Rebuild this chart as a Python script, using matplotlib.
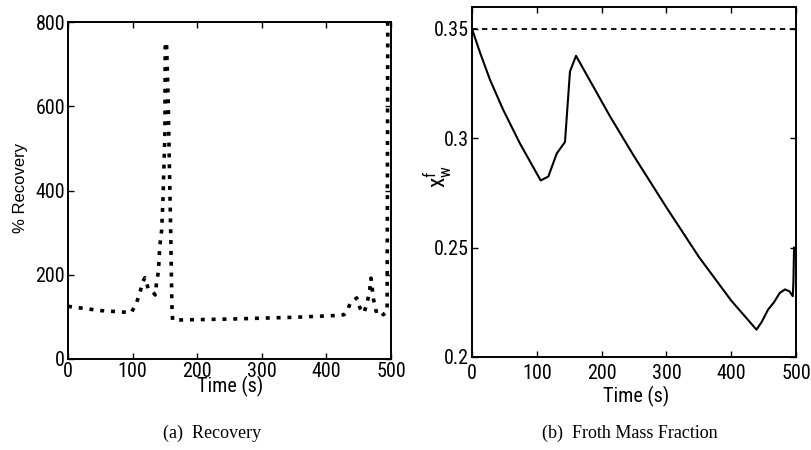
import matplotlib
matplotlib.use("Agg")
import matplotlib.pyplot as plt
from matplotlib import font_manager
from matplotlib.font_manager import FontProperties

names = {f.name for f in font_manager.fontManager.ttflist}
narrow_family = None
for cand in ["Liberation Sans Narrow", "Nimbus Sans Narrow", "Arial Narrow", "Roboto Condensed",
             "Archivo Narrow"]:
    if cand in names:
        narrow_family = cand
        break
if narrow_family:
    def nfp(size):
        return FontProperties(family=narrow_family, size=size)
else:
    def nfp(size):
        return FontProperties(family="DejaVu Sans", stretch="condensed", size=size)
serif = "Liberation Serif"

# ---- data: (a) Recovery ----
rec_t = [0, 10, 20, 30, 40, 50, 60, 70, 80, 90, 98, 106, 111, 116, 119, 124, 129, 135,
         137, 140, 142, 145, 147, 150, 150.5, 152.5, 155, 157, 159, 160, 161, 162,
         180, 220, 256, 300, 350, 411, 427, 432, 437, 447, 452, 458, 463, 467, 469,
         473, 477, 483, 488, 492, 494, 495]
rec_v = [125, 123, 121, 119, 117, 115, 114, 113, 112, 111, 110, 133, 156, 184, 193, 168, 164, 152,
         180, 208, 267, 306, 377, 535, 752, 750, 620, 456, 298, 200, 117, 92,
         93, 94, 95, 97, 99, 103, 105, 113, 133, 145, 121, 109, 133, 164, 192,
         141, 113, 117, 105, 110, 113, 800]

# ---- data: (b) Froth Mass Fraction ----
fr_t = [0, 12, 27.8, 48.3, 74, 106, 117.8, 130.7, 143.5, 151.2, 160.5,
        213, 250, 300, 350, 400, 439, 447, 457, 466, 475, 483, 490, 495, 496, 497]
fr_v = [0.350, 0.3395, 0.3267, 0.3129, 0.2976, 0.2807, 0.2825, 0.2930, 0.2983, 0.3305, 0.3377,
        0.3100, 0.2918, 0.2684, 0.2458, 0.2258, 0.2125, 0.2160, 0.2217, 0.2250,
        0.2293, 0.2309, 0.2300, 0.2278, 0.2340, 0.2500]
fr_ref = 0.35

x_ticks = [0, 100, 200, 300, 400, 500]
rec_yticks = [0, 200, 400, 600, 800]
fr_yticks = [0.2, 0.25, 0.3, 0.35]
fr_yticklabels = ["0.2", "0.25", "0.3", "0.35"]

fig = plt.figure(figsize=(8.11, 4.5), dpi=100)
W, H = 811, 450

def axes_px(x0, x1, ytop, ybot):
    return fig.add_axes([x0 / W, 1 - ybot / H, (x1 - x0) / W, (ybot - ytop) / H])

def ftext(x, y, s, **kw):
    return fig.text(x / W, 1 - y / H, s, **kw)

ax1 = axes_px(68, 391, 22, 359)
ax2 = axes_px(472, 796, 7, 357)

TS = 14.5
for ax in (ax1, ax2):
    ax.tick_params(direction="in", top=True, right=True, length=4, width=1.0, pad=2)
    for s in ax.spines.values():
        s.set_linewidth(1.4)
    ax.set_xlim(0, 500)
    ax.set_xticks(x_ticks)
    ax.set_xticklabels([str(v) for v in x_ticks], fontproperties=nfp(TS))
ax2.tick_params(axis="x", pad=5)

ax1.plot(rec_t, rec_v, color="black", lw=2.6, linestyle=(0, (1.1, 1.9)))
ax1.set_ylim(0, 800)
ax1.set_yticks(rec_yticks)
ax1.set_yticklabels([str(v) for v in rec_yticks], fontproperties=nfp(TS))

ax2.plot(fr_t, fr_v, color="black", lw=1.5)
ax2.axhline(fr_ref, color="black", lw=1.3, linestyle=(0, (3, 2.5)))
ax2.set_ylim(0.2, 0.36)
ax2.set_yticks(fr_yticks)
ax2.set_yticklabels(fr_yticklabels, fontproperties=nfp(TS))

# axis labels at reference positions
ftext(230, 386, "Time (s)", fontproperties=nfp(TS), ha="center", va="center")
ftext(636, 396, "Time (s)", fontproperties=nfp(TS), ha="center", va="center")
ftext(21, 188, "% Recovery", family="Liberation Sans", fontsize=12, ha="center",
      va="center", rotation=90)
ftext(438, 177, r"$\mathregular{x_w^f}$", fontproperties=nfp(17), ha="center",
      va="center", rotation=90)

ftext(212, 433, "(a)  Recovery", family=serif, fontsize=13, ha="center", va="center")
ftext(630, 433, "(b)  Froth Mass Fraction", family=serif, fontsize=13,
      ha="center", va="center")

fig.savefig("out.png", dpi=100)
